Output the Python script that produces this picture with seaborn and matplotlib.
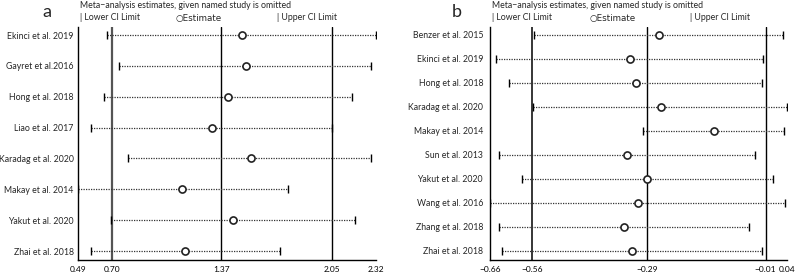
import numpy as np
import pandas as pd
import seaborn as sns
import matplotlib.pyplot as plt

# Panel a data
studies_a = ["Ekinci et al. 2019", "Gayret et al.2016", "Hong et al. 2018", "Liao et al. 2017",
             "Karadag et al. 2020", "Makay et al. 2014", "Yakut et al. 2020", "Zhai et al. 2018"]
est_a = [1.50, 1.52, 1.41, 1.31, 1.55, 1.13, 1.44, 1.15]
low_a = [0.67, 0.74, 0.65, 0.57, 0.80, 0.49, 0.69, 0.57]
up_a = [2.32, 2.29, 2.17, 2.05, 2.29, 1.78, 2.19, 1.73]
ticks_a = [0.49, 0.70, 1.37, 2.05, 2.32]
ref_a = [0.70, 1.37, 2.05]

# Panel b data
studies_b = ["Benzer et al. 2015", "Ekinci et al. 2019", "Hong et al. 2018", "Karadag et al. 2020",
             "Makay et al. 2014", "Sun et al. 2013", "Yakut et al. 2020", "Wang et al. 2016",
             "Zhang et al. 2018", "Zhai et al. 2018"]
est_b = [-0.262, -0.330, -0.316, -0.256, -0.132, -0.337, -0.290, -0.311, -0.343, -0.325]
low_b = [-0.556, -0.646, -0.614, -0.558, -0.299, -0.639, -0.585, -0.66, -0.638, -0.632]
up_b = [0.032, -0.016, -0.018, 0.04, 0.034, -0.035, 0.008, 0.036, -0.048, -0.019]
ticks_b = [-0.66, -0.56, -0.29, -0.01, 0.04]
ref_b = [-0.56, -0.29, -0.01]

sns.set_style("white")
plt.rcParams["font.family"] = ["Lato", "DejaVu Sans"]

W, H = 800, 275
FS = 6.3
fig = plt.figure(figsize=(W / 100, H / 100), dpi=100)


def forest(ax, studies, est, low, up, ticks, refs, pad_top, pad_bot, ref_colors, ref_lws, ypad):
    df = pd.DataFrame({"study": studies, "est": est, "low": low, "up": up})
    df["pos"] = np.arange(len(df))
    for x, c, lw in zip(refs, ref_colors, ref_lws):
        ax.axvline(x, color=c, lw=lw, zorder=1)
    ax.hlines(df["pos"], df["low"], df["up"], colors="#333333", linestyles=(0, (1, 1)), lw=0.9, zorder=2)
    sns.scatterplot(data=df, x="low", y="pos", marker="|", s=30, color="black", linewidth=1, ax=ax, zorder=3)
    sns.scatterplot(data=df, x="up", y="pos", marker="|", s=30, color="black", linewidth=1, ax=ax, zorder=3)
    sns.scatterplot(data=df, x="est", y="pos", marker="o", s=26, facecolor="white", edgecolor="#222222",
                    linewidth=1.2, ax=ax, zorder=4)
    ax.set_xlim(ticks[0], ticks[-1])
    ax.set_ylim(len(df) - 1 + pad_bot, -pad_top)
    ax.set_xticks(ticks)
    ax.set_xticklabels([f"{t:.2f}".replace("-", "\u2212") for t in ticks], fontsize=6)
    ax.set_yticks(df["pos"])
    ax.set_yticklabels(df["study"], fontsize=FS)
    ax.set_xlabel("")
    ax.set_ylabel("")
    ax.tick_params(axis="x", length=3, width=0.8, pad=1.5, colors="black")
    ax.tick_params(axis="y", length=0, pad=ypad)
    sns.despine(ax=ax, top=True, right=True)
    for s in ["left", "bottom"]:
        ax.spines[s].set_color("black")
        ax.spines[s].set_linewidth(1.0)
    ax.patch.set_alpha(0)


ax_a = fig.add_axes([78 / W, 1 - 260 / H, (376 - 78) / W, (260 - 27) / H])
forest(ax_a, studies_a, est_a, low_a, up_a, ticks_a, ref_a, 0.26, 0.29,
       ["#555555", "black", "black"], [1.6, 1.0, 1.0], 3)

ax_b = fig.add_axes([490 / W, 1 - 260 / H, (786.7 - 490) / W, (260 - 27) / H])
forest(ax_b, studies_b, est_b, low_b, up_b, ticks_b, ref_b, 0.33, 0.375,
       ["black", "black", "black"], [1.1, 1.0, 1.0], 5)


def header(letter, lx, tx, ex, ux):
    fig.text(lx / W, 1 - 12 / H, letter, fontsize=13, ha="center", va="center")
    fig.text(tx / W, 1 - 6 / H, "Meta\u2212analysis estimates, given named study is omitted",
             fontsize=FS, ha="left", va="center")
    fig.text(tx / W, 1 - 18 / H, "| Lower CI Limit", fontsize=FS, ha="left", va="center")
    fig.text(ex / W, 1 - 18 / H, "\u25cbEstimate", fontsize=FS, ha="left", va="center",
             family=["DejaVu Sans"])
    fig.text(ux / W, 1 - 18 / H, "| Upper CI Limit", fontsize=FS, ha="left", va="center")


header("a", 47, 80, 175, 277)
header("b", 457, 492, 589, 690)

fig.savefig("out.png", dpi=100)
